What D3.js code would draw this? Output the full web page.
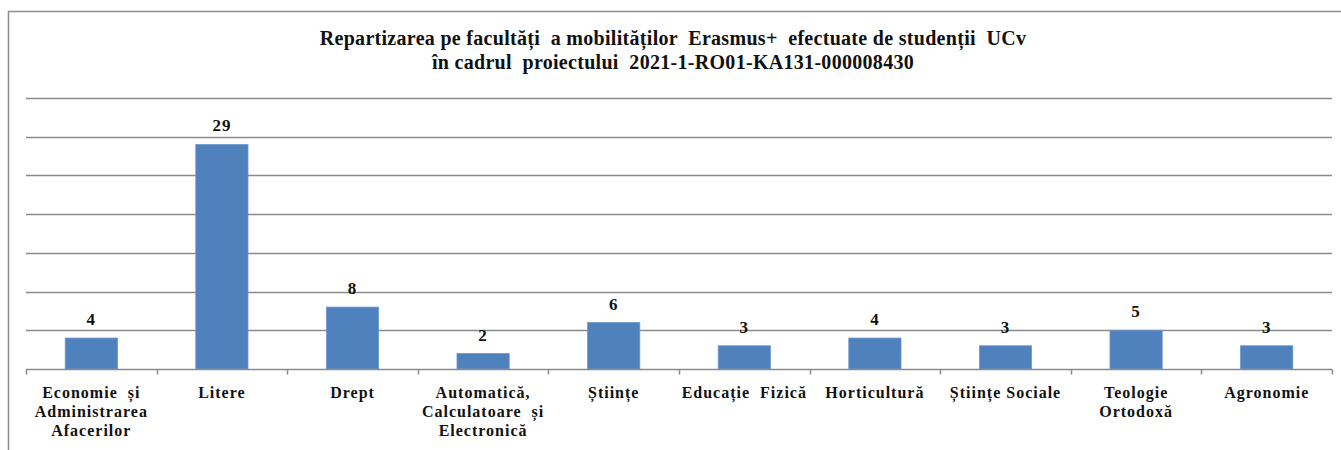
<!DOCTYPE html>
<html>
<head>
<meta charset="utf-8">
<script src="https://cdn.jsdelivr.net/npm/d3@7"></script>
<style>
  body { margin: 0; background: #fff; }
</style>
</head>
<body>
<div id="chart"></div>
<script>
// data
var faculties = [
  ["Economie  și", "Administrarea", "Afacerilor"],
  ["Litere"],
  ["Drept"],
  ["Automatică,", "Calculatoare  și", "Electronică"],
  ["Științe"],
  ["Educație  Fizică"],
  ["Horticultură"],
  ["Științe Sociale"],
  ["Teologie", "Ortodoxă"],
  ["Agronomie"]
];
var mobilities = [4, 29, 8, 2, 6, 3, 4, 3, 5, 3];
var titleLines = [
  "Repartizarea pe facultăți  a mobilităților  Erasmus+  efectuate de studenții  UCv",
  "în cadrul  proiectului  2021-1-RO01-KA131-000008430"
];
var gridTicks = [0, 5, 10, 15, 20, 25, 30, 35];

var FONT = "Liberation Serif";
var W = 1341, H = 450;
var margin = {top: 98, right: 9, bottom: 81, left: 26},
    width = W - margin.left - margin.right,
    height = H - margin.top - margin.bottom;

var svg = d3.select("#chart")
  .append("svg")
    .attr("width", W)
    .attr("height", H);

// outer frame
svg.append("rect")
  .attr("x", 8.5).attr("y", 11.5)
  .attr("width", W + 10).attr("height", H + 10)
  .attr("fill", "none")
  .attr("stroke", "#8c8c8c")
  .attr("stroke-width", 1.5);

// title
svg.append("g").selectAll("text")
  .data(titleLines)
  .enter()
  .append("text")
    .attr("x", 673)
    .attr("y", function (d, i) { return 45 + i * 24; })
    .attr("text-anchor", "middle")
    .attr("font-family", FONT)
    .attr("font-weight", "bold")
    .attr("font-size", 20)
    .attr("letter-spacing", 0.3)
    .attr("fill", "#111")
    .style("white-space", "pre")
    .text(function (d) { return d; });

var g = svg.append("g")
  .attr("transform", "translate(" + margin.left + "," + margin.top + ")");

var x = d3.scaleBand()
  .domain(d3.range(faculties.length))
  .range([0, width])
  .paddingInner(0.6)
  .paddingOuter(0.3);

var y = d3.scaleLinear()
  .domain([0, 35])
  .range([height, 0]);

// gridlines
g.append("g")
  .selectAll("line")
  .data(gridTicks.slice(1))
  .enter()
  .append("line")
    .attr("x1", 0).attr("x2", width)
    .attr("y1", function (d) { return Math.round(y(d)) + 0.5; })
    .attr("y2", function (d) { return Math.round(y(d)) + 0.5; })
    .attr("stroke", "#8a8a8a")
    .attr("stroke-width", 1.5);

// bars
g.append("g")
  .selectAll("rect")
  .data(mobilities)
  .enter()
  .append("rect")
    .attr("x", function (d, i) { return x(i); })
    .attr("y", function (d) { return y(d); })
    .attr("width", x.bandwidth())
    .attr("height", function (d) { return height - y(d); })
    .attr("fill", "#4f81bd")
    .attr("stroke", "#6f98cc")
    .attr("stroke-width", 0.8);

// value labels
g.append("g")
  .selectAll("text")
  .data(mobilities)
  .enter()
  .append("text")
    .attr("x", function (d, i) { return x(i) + x.bandwidth() / 2; })
    .attr("y", function (d) { return y(d) - 13; })
    .attr("text-anchor", "middle")
    .attr("font-family", FONT)
    .attr("font-weight", "bold")
    .attr("font-size", 17)
    .attr("letter-spacing", 1)
    .attr("fill", "#111")
    .text(function (d) { return d; });

// baseline with category boundary ticks
var step = width / faculties.length;
var axis = g.append("g")
  .attr("transform", "translate(0," + (height + 0.5) + ")");
axis.append("line")
  .attr("x1", 0).attr("x2", width)
  .attr("stroke", "#8a8a8a")
  .attr("stroke-width", 1.5);
axis.selectAll(".tk")
  .data(d3.range(faculties.length + 1))
  .enter()
  .append("line")
    .attr("class", "tk")
    .attr("x1", function (d) { return Math.round(d * step) + 0.5; })
    .attr("x2", function (d) { return Math.round(d * step) + 0.5; })
    .attr("y1", 0).attr("y2", 5)
    .attr("stroke", "#8a8a8a")
    .attr("stroke-width", 1.5);

// category labels
var labels = axis.selectAll(".cat")
  .data(faculties)
  .enter()
  .append("text")
    .attr("class", "cat")
    .attr("text-anchor", "middle")
    .attr("font-family", FONT)
    .attr("font-weight", "bold")
    .attr("font-size", 16)
    .attr("letter-spacing", 1)
    .attr("fill", "#111")
    .style("white-space", "pre")
    .attr("transform", function (d, i) { return "translate(" + (x(i) + x.bandwidth() / 2) + ",28)"; });
labels.selectAll("tspan")
  .data(function (d) { return d; })
  .enter()
  .append("tspan")
    .attr("x", 0)
    .attr("y", function (d, i) { return i * 19; })
    .text(function (d) { return d; });
</script>
</body>
</html>
